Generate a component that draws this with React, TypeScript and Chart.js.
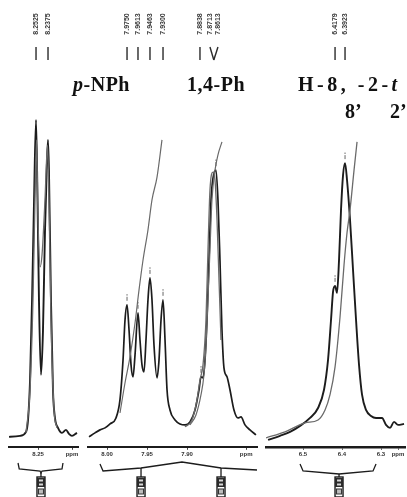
import React, { useEffect, useRef } from "react";
import { Chart, registerables } from "chart.js";
Chart.register(...registerables);

const W = 407;
const H = 497;

// ---------- Panel 1 : ~8.25 ppm ----------
const p1Ticks = [8.25, 8.2075];
const p1TickLabels = ["8.25", "ppm"];
const p1MainPpm = [8.2863, 8.2725, 8.265, 8.2625, 8.26, 8.2575, 8.255, 8.2525, 8.2506, 8.2488, 8.2463, 8.2438, 8.2413, 8.2388, 8.2375, 8.2363, 8.2338, 8.2313, 8.2288, 8.225, 8.22, 8.215, 8.2113, 8.2075, 8.2013];
const p1MainInt = [3.0, 3.3, 4.5, 8.1, 20, 44, 74, 98.5, 74, 44, 21.7, 35, 65, 86, 92.5, 83, 44, 17, 8.7, 5.7, 4.2, 5.1, 3.9, 3.3, 4.2];
const p1AltPpm = [8.265, 8.26, 8.2563, 8.2538, 8.2519, 8.25, 8.2475, 8.245, 8.2413, 8.2381, 8.2363, 8.2338, 8.23, 8.2263];
const p1AltInt = [4.2, 17.2, 44.3, 74.4, 92.5, 68.4, 54.2, 57.8, 74.4, 90.9, 74.4, 38.3, 11.1, 5.7];
const p1Sticks = [8.2525, 8.2375];
const p1StickLabels = ["8.2525", "8.2375"];

// ---------- Panel 2 : 8.02 - 7.81 ppm ----------
const p2Ticks = [8.0, 7.95, 7.9, 7.826];
const p2TickLabels = ["8.00", "7.95", "7.90", "ppm"];
const p2MainPpm = [8.0225, 8.015, 8.0088, 8.0025, 7.9963, 7.9888, 7.9838, 7.98, 7.9775, 7.975, 7.9725, 7.97, 7.9675, 7.965, 7.9613, 7.9588, 7.9563, 7.9538, 7.9513, 7.9488, 7.9463, 7.9438, 7.9413, 7.9375, 7.935, 7.9325, 7.93, 7.9275, 7.925, 7.9213, 7.915, 7.9088, 7.9025, 7.8963, 7.89, 7.885, 7.8825, 7.88, 7.8775, 7.875, 7.8725, 7.87, 7.8675, 7.8638, 7.8613, 7.8588, 7.8563, 7.8538, 7.85, 7.8463, 7.8413, 7.8363, 7.8325, 7.8275, 7.8213, 7.8138];
const p2MainInt = [3.0, 4.2, 5.1, 5.7, 6.9, 8.7, 14.2, 26.2, 38.3, 42.8, 35.2, 24.7, 21.1, 27.7, 40.4, 32.2, 24.7, 22.6, 32.2, 44.3, 50.9, 44.3, 30.7, 20.8, 26.2, 38.3, 44.3, 32.2, 17.2, 11.1, 8.1, 6.9, 6.6, 7.5, 11.1, 17.2, 21.1, 20.8, 26.2, 38.3, 56.3, 74.4, 81, 83.4, 74.4, 56.3, 35.2, 23.8, 21.1, 17.2, 11.1, 8.7, 9.0, 6.6, 5.1, 3.6];
const p2IntegAPpm = [7.9838, 7.9775, 7.9713, 7.965, 7.96, 7.955, 7.9488, 7.9438, 7.9375, 7.9313];
const p2IntegAInt = [10.2, 19.3, 27.1, 37.3, 47.3, 56.3, 65.4, 74.4, 81.3, 92.5];
const p2IntegBPpm = [7.8963, 7.8888, 7.8825, 7.8788, 7.8763, 7.8738, 7.8713, 7.8688, 7.865, 7.8613, 7.8563];
const p2IntegBInt = [6.6, 9.6, 15.7, 21.7, 30.7, 44.3, 59.3, 74.4, 83.4, 88, 91.9];
const p2AltPpm = [7.9025, 7.8938, 7.8875, 7.8838, 7.88, 7.8763, 7.8738, 7.8713, 7.8675, 7.865, 7.8625, 7.86, 7.8575];
const p2AltInt = [6.0, 8.1, 14.2, 20.2, 24.7, 38.3, 59.3, 77.4, 82.8, 80.4, 68.4, 50.3, 32.2];
const p2Sticks = [7.975, 7.9613, 7.9463, 7.93, 7.8838, 7.8713, 7.8613];
const p2StickFeet = [7.975, 7.9613, 7.9463, 7.93, 7.8838, 7.8665, 7.8665];
const p2StickLabels = ["7.9750", "7.9613", "7.9463", "7.9300", "7.8838", "7.8713", "7.8613"];
const p2MarkPpm = [7.975, 7.9613, 7.9463, 7.93, 7.8825, 7.8638];
const p2MarkInt = [42.8, 40.4, 50.9, 44.3, 21.1, 83.4];

// ---------- Panel 3 : 6.60 - 6.24 ppm ----------
const p3Ticks = [6.5, 6.4, 6.3, 6.2564];
const p3TickLabels = ["6.5", "6.4", "6.3", "ppm"];
const p3MainPpm = [6.5897, 6.559, 6.5333, 6.5077, 6.482, 6.4615, 6.4462, 6.4359, 6.4282, 6.4231, 6.4179, 6.4128, 6.4077, 6.4026, 6.3974, 6.3923, 6.3872, 6.3795, 6.3718, 6.3641, 6.3564, 6.3487, 6.3385, 6.3256, 6.3128, 6.2974, 6.2872, 6.2769, 6.2667, 6.2564, 6.241];
const p3MainInt = [2.1, 3.3, 4.5, 6.3, 8.7, 11.7, 17.2, 26.2, 38.3, 46.7, 48.5, 46.4, 56.3, 71.4, 81.9, 85.5, 80.4, 68.4, 53.3, 38.3, 24.7, 15.7, 11.1, 9.3, 8.7, 8.7, 6.6, 5.7, 7.5, 6.6, 6.9];
const p3IntegPpm = [6.5949, 6.5462, 6.4949, 6.4615, 6.4436, 6.4308, 6.4179, 6.4051, 6.3949, 6.3872, 6.3795, 6.3692, 6.3615];
const p3IntegInt = [2.7, 4.5, 7.2, 8.1, 11.1, 15.7, 24.1, 39.2, 54.8, 64.5, 71.4, 83.4, 91.9];
const p3Sticks = [6.4179, 6.3923];
const p3StickLabels = ["6.4179", "6.3923"];
const p3MarkPpm = [6.4179, 6.3923];
const p3MarkInt = [48.5, 85.5];

const DARK = "#1c1c1c";
const GRAY = "#6a6a6a";

type Trace = { ppm: number[]; val: number[]; color: string; width: number };
type Label = { parts: { t: string; it?: boolean }[]; at: number; y: number; spacing: number };
type PanelCfg = {
  key: string;
  min: number;
  max: number;
  padL: number;
  padR: number;
  ticks: number[];
  tickLabels: string[];
  traces: Trace[];
  sticks: number[];
  stickFeet: number[];
  stickLabels: string[];
  markPpm: number[];
  markInt: number[];
  labels: Label[];
  bracket: [number, number][];
  boxes: [number, number][];
  axisWidth: number;
};

const panels: PanelCfg[] = [
  {
    key: "p1", min: 8.2, max: 8.2863, padL: 9, padR: W - 78,
    ticks: p1Ticks, tickLabels: p1TickLabels,
    traces: [
      { ppm: p1AltPpm, val: p1AltInt, color: GRAY, width: 1.3 },
      { ppm: p1MainPpm, val: p1MainInt, color: DARK, width: 1.9 },
    ],
    sticks: p1Sticks, stickFeet: p1Sticks, stickLabels: p1StickLabels,
    markPpm: [], markInt: [],
    labels: [],
    bracket: [[8.275, 463], [8.2735, 469], [8.2475, 471], [8.2463, 473], [8.245, 471], [8.22, 469], [8.2188, 463]],
    boxes: [[8.2463, 473]],
    axisWidth: 2,
  },
  {
    key: "p2", min: 7.8125, max: 8.0238, padL: 88, padR: W - 257,
    ticks: p2Ticks, tickLabels: p2TickLabels,
    traces: [
      { ppm: p2IntegAPpm, val: p2IntegAInt, color: GRAY, width: 1.2 },
      { ppm: p2IntegBPpm, val: p2IntegBInt, color: GRAY, width: 1.2 },
      { ppm: p2AltPpm, val: p2AltInt, color: GRAY, width: 1.3 },
      { ppm: p2MainPpm, val: p2MainInt, color: DARK, width: 1.7 },
    ],
    sticks: p2Sticks, stickFeet: p2StickFeet, stickLabels: p2StickLabels,
    markPpm: p2MarkPpm, markInt: p2MarkInt,
    labels: [
      { parts: [{ t: "p", it: true }, { t: "-NPh" }], at: 8.0425, y: 91, spacing: 0.5 },
      { parts: [{ t: "1,4-Ph" }], at: 7.9, y: 91, spacing: 0.5 },
    ],
    bracket: [[8.0088, 464], [8.005, 471], [7.9575, 468], [7.9063, 462], [7.8575, 468], [7.8125, 470]],
    boxes: [[7.9575, 468], [7.8575, 468]],
    axisWidth: 2,
  },
  {
    key: "p3", min: 6.2385, max: 6.595, padL: 266, padR: 2,
    ticks: p3Ticks, tickLabels: p3TickLabels,
    traces: [
      { ppm: p3IntegPpm, val: p3IntegInt, color: GRAY, width: 1.3 },
      { ppm: p3MainPpm, val: p3MainInt, color: DARK, width: 1.9 },
    ],
    sticks: p3Sticks, stickFeet: p3Sticks, stickLabels: p3StickLabels,
    markPpm: p3MarkPpm, markInt: p3MarkInt,
    labels: [
      { parts: [{ t: "H-8, -2-" }, { t: "t", it: true }], at: 6.5128, y: 91, spacing: 3.5 },
      { parts: [{ t: "8\u2019" }], at: 6.3923, y: 118, spacing: 0 },
      { parts: [{ t: "2\u2019" }], at: 6.2769, y: 118, spacing: 0 },
    ],
    bracket: [[6.5077, 464], [6.5, 471], [6.4077, 474], [6.3205, 471], [6.3128, 464]],
    boxes: [[6.4077, 474]],
    axisWidth: 2.5,
  },
];

function drawBox(ctx: CanvasRenderingContext2D, x: number) {
  const top = 477;
  const w = 8;
  ctx.fillStyle = "#ffffff";
  ctx.fillRect(x - w / 2, top, w, 20);
  ctx.strokeStyle = DARK;
  ctx.lineWidth = 1.4;
  ctx.strokeRect(x - w / 2, top, w, 20);
  ctx.fillStyle = "#2a2a2a";
  ctx.fillRect(x - w / 2, top + 1, w, 9);
  ctx.fillStyle = "#d8d8d8";
  ctx.fillRect(x - 2, top + 2.5, 4, 2);
  ctx.fillRect(x - 2, top + 6.5, 4, 2);
  ctx.fillStyle = "#bdbdbd";
  ctx.fillRect(x - 2.5, top + 12, 5, 5);
  ctx.strokeStyle = "#333";
  ctx.lineWidth = 1;
  ctx.strokeRect(x - 2.5, top + 12, 5, 5);
}

function makePlugin(cfg: PanelCfg) {
  return {
    id: "annot_" + cfg.key,
    afterDraw(chart: any) {
      const ctx: CanvasRenderingContext2D = chart.ctx;
      const xs = chart.scales.x;
      const ys = chart.scales.y;
      const X = (p: number) => xs.getPixelForValue(p);
      ctx.save();

      // stick lines and their vertical labels
      cfg.sticks.forEach((p, i) => {
        const xt = X(p);
        const xb = X(cfg.stickFeet[i]);
        ctx.strokeStyle = "#2a2a2a";
        ctx.lineWidth = 1.4;
        ctx.beginPath();
        ctx.moveTo(xt, 47);
        ctx.lineTo(xb, 60);
        ctx.stroke();
        ctx.save();
        ctx.translate(xt, 24);
        ctx.rotate(-Math.PI / 2);
        ctx.font = "bold 7px 'Liberation Sans'";
        ctx.fillStyle = "#3a3a3a";
        ctx.textAlign = "center";
        ctx.textBaseline = "middle";
        ctx.fillText(cfg.stickLabels[i], 0, 0);
        ctx.restore();
      });

      // peak markers
      cfg.markPpm.forEach((p, i) => {
        const px = X(p);
        const py = ys.getPixelForValue(cfg.markInt[i]);
        ctx.strokeStyle = "#666";
        ctx.fillStyle = "#666";
        ctx.lineWidth = 1;
        ctx.beginPath();
        ctx.moveTo(px, py - 8);
        ctx.lineTo(px, py - 4);
        ctx.stroke();
        ctx.fillRect(px - 0.6, py - 10.5, 1.2, 1.2);
      });

      // group labels
      cfg.labels.forEach((lb) => {
        let x = X(lb.at);
        ctx.fillStyle = "#111";
        ctx.textAlign = "left";
        ctx.textBaseline = "alphabetic";
        (ctx as any).letterSpacing = lb.spacing + "px";
        lb.parts.forEach((pt) => {
          ctx.font = (pt.it ? "italic " : "") + "bold 20px 'Liberation Serif'";
          ctx.fillText(pt.t, x, lb.y);
          x += ctx.measureText(pt.t).width;
        });
        (ctx as any).letterSpacing = "0px";
      });

      // structure bracket under the axis
      ctx.strokeStyle = DARK;
      ctx.lineWidth = 1.3;
      ctx.beginPath();
      cfg.bracket.forEach(([p, y], i) => {
        if (i === 0) ctx.moveTo(X(p), y);
        else ctx.lineTo(X(p), y);
      });
      ctx.stroke();
      cfg.boxes.forEach(([p, y]) => {
        const bx = X(p);
        ctx.strokeStyle = DARK;
        ctx.lineWidth = 1.3;
        ctx.beginPath();
        ctx.moveTo(bx, y);
        ctx.lineTo(bx, 477);
        ctx.stroke();
        drawBox(ctx, bx);
      });

      ctx.restore();
    },
  };
}

function Panel({ cfg }: { cfg: PanelCfg }) {
  const ref = useRef<HTMLCanvasElement | null>(null);
  useEffect(() => {
    if (!ref.current) return;
    const chart = new Chart(ref.current, {
      type: "line",
      data: {
        datasets: cfg.traces.map((tr) => ({
          data: tr.ppm.map((p, i) => ({ x: p, y: tr.val[i] })),
          borderColor: tr.color,
          borderWidth: tr.width,
          pointRadius: 0,
          fill: false,
          cubicInterpolationMode: "monotone" as const,
        })),
      },
      options: {
        animation: false,
        responsive: false,
        devicePixelRatio: 1,
        events: [],
        layout: { padding: { left: cfg.padL, right: cfg.padR, top: 115, bottom: 38 } },
        plugins: { legend: { display: false }, tooltip: { enabled: false }, title: { display: false } },
        scales: {
          x: {
            type: "linear",
            reverse: true,
            min: cfg.min,
            max: cfg.max,
            afterBuildTicks: (s: any) => {
              s.ticks = cfg.ticks.map((v) => ({ value: v }));
            },
            ticks: {
              autoSkip: false,
              maxRotation: 0,
              padding: 1,
              color: "#333",
              font: { size: 6, weight: "bold", family: "'Liberation Sans'" },
              callback: (_v: any, i: number) => cfg.tickLabels[i],
            },
            grid: { display: true, drawOnChartArea: false, tickLength: 3, color: "#444" },
            border: { display: true, color: DARK, width: cfg.axisWidth },
          },
          y: { display: false, min: 0, max: 100 },
        },
      },
      plugins: [makePlugin(cfg)],
    } as any);
    return () => chart.destroy();
  }, [cfg]);
  return (
    <canvas
      ref={ref}
      width={W}
      height={H}
      style={{ position: "absolute", left: 0, top: 0, width: W, height: H }}
    />
  );
}

export default function App() {
  return (
    <div style={{ position: "fixed", left: 0, top: 0, width: W, height: H, background: "#ffffff", overflow: "hidden" }}>
      {panels.map((p) => (
        <Panel key={p.key} cfg={p} />
      ))}
    </div>
  );
}
